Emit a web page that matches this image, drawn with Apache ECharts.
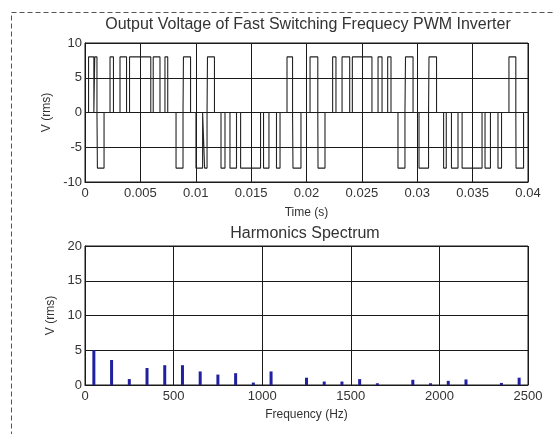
<!DOCTYPE html>
<html><head><meta charset="utf-8">
<script src="https://cdn.jsdelivr.net/npm/echarts@6/dist/echarts.min.js"></script>
<style>html,body{margin:0;padding:0;background:#fff}#c{width:555px;height:434px}</style>
</head><body><div id="c"></div>
<script>
// PWM pulses: [start ms, end ms, level V]
const pulsesHalf1 = [[0.32,0.80,8],[0.88,1.08,8],[1.12,1.72,-8],[2.26,2.57,8],[3.16,3.75,8],[4.02,5.94,8],[6.16,6.77,8],[7.22,7.47,8],[8.22,8.85,-8],[8.89,9.53,8]];
const pulsesHalf2 = [[10.02,10.62,-8],[10.80,11.02,-8],[11.06,11.69,8],[12.28,12.64,-8],[13.09,13.68,-8],[14.05,15.85,-8],[16.12,16.61,-8],[17.29,17.61,-8],[18.24,18.74,8],[18.78,19.50,-8]];
const pulsesHalf3 = [[20.32,21.02,8],[21.04,21.67,-8],[22.36,22.66,8],[23.21,23.90,8],[24.14,25.91,8],[26.46,26.82,8],[27.33,27.63,8],[28.26,28.89,-8],[28.94,29.62,8]];
const pulsesHalf4 = [[30.16,31.02,-8],[31.06,31.74,8],[32.38,32.62,-8],[33.09,33.68,-8],[34.05,35.85,-8],[36.12,36.61,-8],[37.29,37.61,-8],[38.28,38.90,8],[38.92,39.60,-8]];
const harmonicFreq = [50,150,250,350,450,550,650,750,850,950,1050,1250,1350,1450,1550,1650,1850,1950,2050,2150,2350,2450];
const harmonicAmp  = [5.0,3.6,0.85,2.45,2.85,2.85,1.95,1.5,1.7,0.35,1.95,1.05,0.5,0.5,0.85,0.25,0.75,0.25,0.6,0.8,0.3,1.05];

const pulses = [].concat(pulsesHalf1,pulsesHalf2,pulsesHalf3,pulsesHalf4);
const wave = [[0,0]];
pulses.forEach(p=>{
  const s=p[0]/1000, e=p[1]/1000;
  wave.push([s,0],[s,p[2]],[e,p[2]],[e,0]);
});
wave.push([0.04,0]);

const FONT = 'Liberation Sans';
const lineCol = '#1a1a1a';
const axisCommon = {
  axisLine:{show:true,onZero:false,lineStyle:{color:lineCol,width:1}},
  axisTick:{show:true,inside:true,length:3,lineStyle:{color:lineCol}},
  splitLine:{show:true,lineStyle:{color:lineCol,width:1}},
  axisLabel:{color:'#333',fontFamily:FONT,fontSize:13,margin:4},
  nameTextStyle:{color:'#333',fontFamily:FONT,fontSize:12},
};
const chart = echarts.init(document.getElementById('c'),null,{renderer:'canvas'});
chart.setOption({
  backgroundColor:'#fff',
  animation:false,
  title:[
    {text:'Output Voltage of Fast Switching Frequecy PWM Inverter',left:303,top:12,textAlign:'center',
     textStyle:{fontFamily:FONT,fontSize:16,fontWeight:'normal',color:'#333'}},
    {text:'Harmonics Spectrum',left:300,top:221,textAlign:'center',
     textStyle:{fontFamily:FONT,fontSize:16,fontWeight:'normal',color:'#333'}}
  ],
  grid:[
    {left:85,top:43,width:443,height:139,show:true,borderColor:lineCol,borderWidth:1,backgroundColor:'transparent'},
    {left:85,top:246,width:443,height:139,show:true,borderColor:lineCol,borderWidth:1,backgroundColor:'transparent'}
  ],
  xAxis:[
    Object.assign({},axisCommon,{type:'value',gridIndex:0,min:0,max:0.04,interval:0.005,
      name:'Time (s)',nameLocation:'middle',nameGap:25,
      axisLabel:Object.assign({},axisCommon.axisLabel,{margin:5,formatter:v=>String(+v.toFixed(3))})}),
    Object.assign({},axisCommon,{type:'value',gridIndex:1,min:0,max:2500,interval:500,
      name:'Frequency (Hz)',nameLocation:'middle',nameGap:24,
      axisLabel:Object.assign({},axisCommon.axisLabel,{margin:5,formatter:v=>String(v)})})
  ],
  yAxis:[
    Object.assign({},axisCommon,{type:'value',gridIndex:0,min:-10,max:10,interval:5,
      name:'V (rms)',nameLocation:'middle',nameGap:32,nameRotate:90,
      axisLabel:Object.assign({},axisCommon.axisLabel,{margin:3})}),
    Object.assign({},axisCommon,{type:'value',gridIndex:1,min:0,max:20,interval:5,
      name:'V (rms)',nameLocation:'middle',nameGap:28,nameRotate:90,
      axisLabel:Object.assign({},axisCommon.axisLabel,{margin:3})})
  ],
  series:[
    {type:'line',xAxisIndex:0,yAxisIndex:0,data:wave,showSymbol:false,symbol:'none',
     lineStyle:{color:'#222',width:1.1},z:5},
    {type:'bar',xAxisIndex:1,yAxisIndex:1,data:harmonicFreq.map((f,i)=>[f,harmonicAmp[i]]),
     barWidth:3,itemStyle:{color:'#2020a0'},z:5}
  ],
  graphic:[
    {type:'rect',shape:{x:11.5,y:12.5,width:700,height:600},
     style:{fill:'none',stroke:'#555',lineWidth:1,lineDash:[5,3]},silent:true}
  ]
});
</script></body></html>
